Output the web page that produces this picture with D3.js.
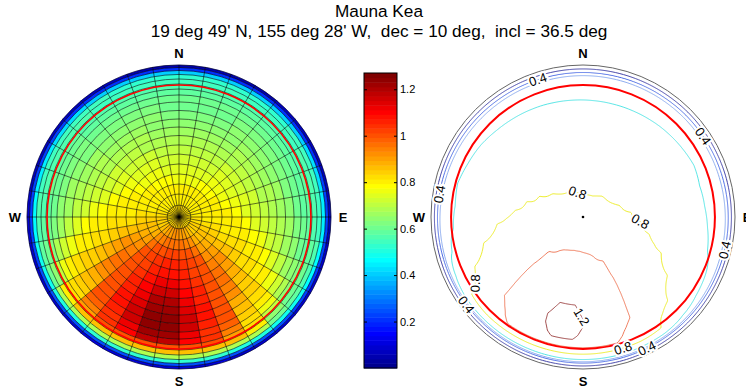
<!DOCTYPE html>
<html>
<head>
<meta charset="utf-8">
<script src="https://cdn.jsdelivr.net/npm/d3@7"></script>
<style>
  body { margin: 0; background: #fff; }
  svg { display: block; font-family: "Liberation Sans", Arial, sans-serif; }
</style>
</head>
<body>
<div id="chart"></div>
<script>
// ---- data -------------------------------------------------------------
const titleLines = ["Mauna Kea", "19 deg 49' N, 155 deg 28' W,  dec = 10 deg,  incl = 36.5 deg"];

// polar mesh: ring edges (fraction of horizon radius), 36 azimuth sectors of 10 deg
const ringEdges = [0, 0.078, 0.151, 0.217, 0.283, 0.349, 0.414, 0.474, 0.536, 0.592,
  0.645, 0.701, 0.757, 0.803, 0.842, 0.875, 0.908, 0.938, 0.964, 0.984, 1.0];
const azimuthStep = 10;

// one row per ring (centre outwards), one value per sector (azimuth 0-10, 10-20, ...)
const values = [
  [.815,.815,.815,.816,.816,.816,.817,.817,.818,.818,.824,.825,.828,.83,.833,.842,.847,.85,.852,.852,.85,.847,.842,.833,.83,.828,.825,.824,.818,.818,.817,.817,.816,.816,.816,.815],
  [.806,.806,.806,.807,.808,.809,.81,.812,.813,.814,.822,.835,.842,.85,.859,.885,.90,.909,.913,.913,.909,.90,.885,.859,.85,.842,.835,.822,.814,.813,.812,.81,.809,.808,.807,.806],
  [.794,.794,.795,.798,.801,.802,.804,.807,.809,.811,.818,.84,.855,.868,.882,.924,.948,.963,.97,.97,.963,.948,.924,.882,.868,.855,.84,.818,.811,.809,.807,.804,.802,.801,.798,.795],
  [.772,.772,.773,.776,.78,.786,.795,.802,.805,.807,.814,.834,.868,.886,.905,.961,.994,1.007,1.016,1.016,1.007,.994,.961,.905,.886,.868,.834,.814,.807,.805,.802,.795,.786,.78,.776,.773],
  [.75,.75,.751,.754,.758,.764,.772,.785,.801,.804,.81,.827,.866,.903,.927,.999,1.013,1.032,1.054,1.054,1.032,1.013,.999,.927,.903,.866,.827,.81,.804,.801,.785,.772,.764,.758,.754,.751],
  [.729,.729,.73,.732,.736,.741,.749,.761,.778,.801,.806,.82,.854,.916,.949,1.003,1.028,1.057,1.09,1.09,1.057,1.028,1.003,.949,.916,.854,.82,.806,.801,.778,.761,.749,.741,.736,.732,.73],
  [.708,.708,.709,.711,.715,.72,.727,.738,.754,.778,.802,.814,.843,.898,.971,1.005,1.042,1.081,1.126,1.126,1.081,1.042,1.005,.971,.898,.843,.814,.802,.778,.754,.738,.727,.72,.715,.711,.709],
  [.688,.688,.689,.691,.694,.699,.706,.716,.73,.752,.787,.808,.832,.881,.958,1.008,1.056,1.104,1.16,1.16,1.104,1.056,1.008,.958,.881,.832,.808,.787,.752,.73,.716,.706,.699,.694,.691,.689],
  [.668,.668,.669,.671,.675,.679,.686,.694,.707,.726,.757,.802,.822,.865,.935,1.01,1.07,1.127,1.193,1.193,1.127,1.07,1.01,.935,.865,.822,.802,.757,.726,.707,.694,.686,.679,.675,.671,.669],
  [.65,.65,.651,.653,.656,.661,.666,.675,.686,.703,.729,.775,.812,.85,.913,1.009,1.082,1.147,1.215,1.215,1.147,1.082,1.009,.913,.85,.812,.775,.729,.703,.686,.675,.666,.661,.656,.653,.651],
  [.632,.632,.633,.635,.638,.642,.647,.655,.665,.679,.702,.74,.803,.835,.891,1.005,1.081,1.168,1.234,1.234,1.168,1.081,1.005,.891,.835,.803,.74,.702,.679,.665,.655,.647,.642,.638,.635,.633],
  [.614,.614,.615,.616,.619,.623,.628,.634,.643,.655,.673,.704,.763,.819,.869,1.001,1.063,1.155,1.241,1.241,1.155,1.063,1.001,.869,.819,.763,.704,.673,.655,.643,.634,.628,.623,.619,.616,.615],
  [.596,.596,.597,.599,.602,.606,.61,.605,.61,.618,.647,.671,.717,.805,.849,.973,1.046,1.128,1.224,1.224,1.128,1.046,.973,.849,.805,.717,.671,.647,.633,.623,.616,.61,.606,.602,.599,.597],
  [.577,.577,.578,.58,.583,.587,.593,.59,.592,.60,.612,.644,.678,.762,.832,.939,1.032,1.106,1.188,1.188,1.106,1.032,.939,.832,.762,.678,.625,.612,.614,.606,.60,.593,.587,.583,.58,.578],
  [.562,.562,.562,.564,.566,.569,.574,.58,.582,.585,.595,.621,.645,.704,.817,.91,1.004,1.008,1.008,1.008,1.008,1.004,.91,.817,.704,.63,.598,.592,.598,.588,.58,.574,.569,.566,.564,.562],
  [.547,.547,.548,.549,.551,.553,.557,.561,.567,.575,.585,.599,.615,.651,.804,.854,.857,.86,.86,.86,.86,.857,.854,.804,.651,.60,.585,.575,.575,.567,.561,.557,.553,.551,.549,.548],
  [.533,.533,.533,.534,.535,.537,.54,.543,.547,.552,.559,.569,.582,.599,.675,.681,.686,.689,.689,.689,.689,.686,.681,.675,.599,.582,.569,.559,.552,.547,.543,.54,.537,.535,.534,.533],
  [.40,.40,.40,.40,.41,.41,.42,.43,.44,.45,.46,.47,.48,.49,.50,.51,.52,.52,.52,.52,.52,.52,.51,.50,.49,.48,.47,.46,.45,.44,.43,.42,.41,.41,.40,.40],
  [.20,.20,.20,.20,.21,.21,.21,.22,.22,.22,.23,.23,.23,.24,.24,.24,.25,.25,.25,.25,.25,.25,.24,.24,.24,.23,.23,.23,.22,.22,.22,.21,.21,.21,.20,.20],
  [.05,.05,.05,.05,.06,.06,.06,.07,.07,.07,.08,.08,.08,.09,.09,.09,.10,.10,.10,.10,.10,.10,.09,.09,.09,.08,.08,.08,.07,.07,.07,.06,.06,.06,.05,.05]
];

const refCircle = 0.868;               // red reference circle
const cLim = [0, 1.27];
const colorbarTicks = [0.2, 0.4, 0.6, 0.8, 1, 1.2];
const levels = [0.2, 0.4, 0.5, 0.6, 0.8, 1.0, 1.2];
const levelColors = ["#4444a8", "#4f6fe6", "#8cacf0", "#55e6e6", "#eeee30", "#f07a5a", "#a04848"];
// inline contour labels: level, approximate azimuth (deg) and radius where they sit
const contourLabels = [
  {level: 0.4, az: 342, r: 0.95}, {level: 0.4, az: 56, r: 0.93}, {level: 0.4, az: 279, r: 0.95},
  {level: 0.4, az: 103, r: 0.95}, {level: 0.4, az: 233, r: 0.95}, {level: 0.4, az: 154, r: 0.96},
  {level: 0.8, az: 344, r: 0.15}, {level: 0.8, az: 79, r: 0.45}, {level: 0.8, az: 239, r: 0.85},
  {level: 0.8, az: 163, r: 0.9}, {level: 1.2, az: 178, r: 0.64}
];
const compass = [{t: "N", az: 0}, {t: "E", az: 90}, {t: "S", az: 180}, {t: "W", az: 270}];

// ---- layout -----------------------------------------------------------
const W = 746, H = 389, R = 152;
const leftC = [179, 217], rightC = [583, 217];
const cb = {x0: 364, x1: 397, y0: 73, y1: 368};

const svg = d3.select("#chart").append("svg").attr("width", W).attr("height", H);

// MATLAB jet colormap
function jetMap(m) {
  const n = Math.ceil(m / 4);
  const u = [...d3.range(1, n + 1).map(i => i / n), ...d3.range(n - 1).map(() => 1), ...d3.range(n, 0, -1).map(i => i / n)];
  const g0 = Math.ceil(n / 2) - (m % 4 === 1 ? 1 : 0);
  const J = d3.range(m).map(() => [0, 0, 0]);
  u.forEach((v, j) => {
    const g = g0 + j + 1, r = g + n, b = g - n;
    if (r <= m) J[r - 1][0] = v;
    if (g <= m) J[g - 1][1] = v;
    if (b >= 1) J[b - 1][2] = v;
  });
  return J.map(c => d3.rgb(c[0] * 255, c[1] * 255, c[2] * 255).formatHex());
}
const jet = jetMap(64);
const colorOf = v => jet[Math.max(0, Math.min(63, Math.floor((v - cLim[0]) / (cLim[1] - cLim[0]) * 64)))];

const rScale = d3.scaleLinear().domain([0, 1]).range([0, R]);
const azScale = d3.scaleLinear().domain([0, 360]).range([0, 2 * Math.PI]);
const polar = (c, az, r) => [c[0] + rScale(r) * Math.sin(azScale(az)), c[1] - rScale(r) * Math.cos(azScale(az))];
const nSect = 360 / azimuthStep;

// ---- title ------------------------------------------------------------
svg.append("g").selectAll("text").data(titleLines).join("text")
  .attr("x", 379).attr("y", (d, i) => 17 + i * 20)
  .attr("text-anchor", "middle").style("white-space", "pre")
  .attr("font-size", 17.2).text(d => d);

// ---- left: polar mesh -------------------------------------------------
const left = svg.append("g").attr("transform", `translate(${leftC})`);
const arc = d3.arc();
const cells = values.flatMap((row, i) => row.map((v, k) => ({i, k, v})));
left.selectAll("path.cell").data(cells).join("path")
  .attr("class", "cell")
  .attr("d", d => arc({
    innerRadius: rScale(ringEdges[d.i]), outerRadius: rScale(ringEdges[d.i + 1]),
    startAngle: azScale(d.k * azimuthStep), endAngle: azScale((d.k + 1) * azimuthStep)
  }))
  .attr("fill", d => colorOf(d.v))
  .attr("stroke", d => colorOf(d.v)).attr("stroke-width", 0.4);

left.selectAll("circle.ring").data(ringEdges.slice(1)).join("circle")
  .attr("r", d => rScale(d)).attr("fill", "none")
  .attr("stroke", "#000").attr("stroke-opacity", 0.75).attr("stroke-width", 0.75);
left.selectAll("line.spoke").data(d3.range(nSect)).join("line")
  .attr("x1", 0).attr("y1", 0)
  .attr("x2", k => rScale(1) * Math.sin(azScale(k * azimuthStep)))
  .attr("y2", k => -rScale(1) * Math.cos(azScale(k * azimuthStep)))
  .attr("stroke", "#000").attr("stroke-opacity", 0.75).attr("stroke-width", 0.75);
left.append("circle").attr("r", rScale(refCircle)).attr("fill", "none")
  .attr("stroke", "#ff0000").attr("stroke-width", 1.6);

// ---- colorbar ---------------------------------------------------------
const cbScale = d3.scaleLinear().domain(cLim).range([cb.y1, cb.y0]);
const step = (cLim[1] - cLim[0]) / 64;
const cbg = svg.append("g");
cbg.selectAll("rect").data(jet).join("rect")
  .attr("x", cb.x0)
  .attr("y", (d, i) => cbScale(cLim[0] + (i + 1) * step))
  .attr("width", cb.x1 - cb.x0)
  .attr("height", (d, i) => cbScale(cLim[0] + i * step) - cbScale(cLim[0] + (i + 1) * step) + 0.5)
  .attr("fill", d => d);
cbg.append("rect").attr("x", cb.x0).attr("y", cb.y0)
  .attr("width", cb.x1 - cb.x0).attr("height", cb.y1 - cb.y0)
  .attr("fill", "none").attr("stroke", "#000").attr("stroke-width", 1);
const axR = cbg.append("g").attr("transform", `translate(${cb.x1},0)`)
  .call(d3.axisRight(cbScale).tickValues(colorbarTicks).tickSizeInner(-3).tickSizeOuter(0).tickPadding(3).tickFormat(d3.format("")));
axR.select(".domain").remove();
axR.selectAll("text").attr("font-size", 11).attr("font-family", "Liberation Sans, Arial, sans-serif").attr("fill", "#000");
const axL = cbg.append("g").attr("transform", `translate(${cb.x0},0)`)
  .call(d3.axisLeft(cbScale).tickValues(colorbarTicks).tickSizeInner(-3).tickSizeOuter(0).tickFormat(""));
axL.select(".domain").remove();

// ---- right: contour plot ----------------------------------------------
const ringMid = d3.pairs(ringEdges, (a, b) => (a + b) / 2);
function sample(rho, az) {
  let s = az / azimuthStep - 0.5;
  s = ((s % nSect) + nSect) % nSect;
  const s0 = Math.floor(s), s1 = (s0 + 1) % nSect, fs = s - s0;
  const last = ringMid.length - 1;
  let r0, r1, fr;
  if (rho <= ringMid[0]) { r0 = r1 = 0; fr = 0; }
  else if (rho >= ringMid[last]) { r0 = r1 = last; fr = 0; }
  else {
    r1 = d3.bisectRight(ringMid, rho); r0 = r1 - 1;
    fr = (rho - ringMid[r0]) / (ringMid[r1] - ringMid[r0]);
  }
  const a = (1 - fs) * values[r0][s0] + fs * values[r0][s1];
  const b = (1 - fs) * values[r1][s0] + fs * values[r1][s1];
  return (1 - fr) * a + fr * b;
}
const N = 300;
const grid = new Float64Array(N * N);
for (let j = 0; j < N; j++) {
  for (let i = 0; i < N; i++) {
    const px = -1 + (i + 0.5) * 2 / N, py = -1 + (j + 0.5) * 2 / N;
    const rho = Math.hypot(px, py);
    grid[j * N + i] = rho > 1 ? -1 : sample(rho, (Math.atan2(px, -py) * 180 / Math.PI + 360) % 360);
  }
}
const contours = d3.contours().size([N, N]).thresholds(levels)(grid);
const proj = d3.geoIdentity().scale(2 * R / N).translate([rightC[0] - R, rightC[1] - R]);
const cpath = d3.geoPath(proj);

const right = svg.append("g");
right.append("circle").attr("cx", rightC[0]).attr("cy", rightC[1]).attr("r", rScale(1))
  .attr("fill", "none").attr("stroke", "#666").attr("stroke-width", 1);
right.selectAll("path.level").data(contours).join("path")
  .attr("d", cpath).attr("fill", "none")
  .attr("stroke", (d, i) => levelColors[i]).attr("stroke-width", 1);
right.append("circle").attr("cx", rightC[0]).attr("cy", rightC[1]).attr("r", rScale(refCircle))
  .attr("fill", "none").attr("stroke", "#ff0000").attr("stroke-width", 2);
right.append("circle").attr("cx", rightC[0]).attr("cy", rightC[1]).attr("r", 1.3).attr("fill", "#000");

// inline labels snapped onto their contour
contourLabels.forEach(lab => {
  const c = contours[levels.indexOf(lab.level)];
  const target = polar(rightC, lab.az, lab.r);
  let best = null, bestD = Infinity;
  c.coordinates.forEach(poly => poly.forEach(ring => {
    const pts = ring.map(p => proj(p));
    pts.forEach((p, idx) => {
      const dd = (p[0] - target[0]) ** 2 + (p[1] - target[1]) ** 2;
      if (dd < bestD) { bestD = dd; best = {pts, idx}; }
    });
  }));
  if (!best) return;
  const n = best.pts.length;
  const pa = best.pts[(best.idx - 3 + n) % n], pb = best.pts[(best.idx + 3) % n];
  let ang = Math.atan2(pb[1] - pa[1], pb[0] - pa[0]) * 180 / Math.PI;
  if (ang > 90) ang -= 180;
  if (ang < -90) ang += 180;
  const p = best.pts[best.idx];
  right.append("text")
    .attr("transform", `translate(${p[0]},${p[1]}) rotate(${ang})`)
    .attr("text-anchor", "middle").attr("dy", "0.35em")
    .attr("font-size", 13)
    .attr("stroke", "#fff").attr("stroke-width", 4).attr("paint-order", "stroke")
    .text(lab.level);
});

// compass letters
[leftC, rightC].forEach(c => {
  svg.append("g").selectAll("text").data(compass).join("text")
    .attr("x", d => polar(c, d.az, 1.08)[0]).attr("y", d => polar(c, d.az, 1.08)[1])
    .attr("text-anchor", "middle").attr("dy", "0.36em")
    .attr("font-size", 13).attr("font-weight", "bold").text(d => d.t);
});
</script>
</body>
</html>
